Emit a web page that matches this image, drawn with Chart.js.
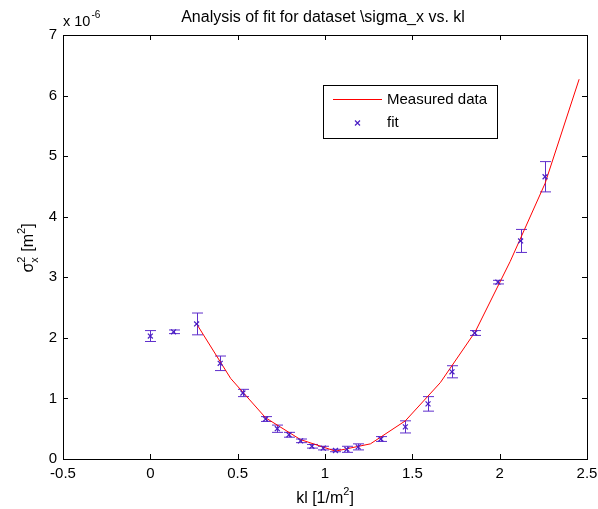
<!DOCTYPE html>
<html><head><meta charset="utf-8">
<script src="https://cdn.jsdelivr.net/npm/chart.js@4.4.1/dist/chart.umd.min.js"></script>
<style>html,body{margin:0;padding:0;background:#fff}#wrap{width:598px;height:509px}</style>
</head><body><div id="wrap"><canvas id="c" width="598" height="509"></canvas></div>
<script>
// data (y values in units of 1e-6 m^2)
const fitX = [0, 0.133, 0.265, 0.40, 0.53, 0.66, 0.727, 0.794, 0.86, 0.925, 0.99, 1.06, 1.125, 1.19, 1.32, 1.46, 1.59, 1.727, 1.857, 1.99, 2.12, 2.26];
const fitY = [2.03, 2.10, 2.23, 1.58, 1.09, 0.66, 0.50, 0.40, 0.30, 0.21, 0.18, 0.14, 0.16, 0.20, 0.33, 0.53, 0.91, 1.44, 2.08, 2.92, 3.60, 4.66];
const fitErr = [0.09, 0.03, 0.18, 0.12, 0.06, 0.04, 0.06, 0.04, 0.03, 0.03, 0.03, 0.02, 0.05, 0.05, 0.04, 0.10, 0.12, 0.10, 0.04, 0.03, 0.19, 0.25];
const lineX = [0.265, 0.46, 0.66, 0.86, 1.06, 1.26, 1.46, 1.66, 1.86, 2.06, 2.26, 2.455];
const lineY = [2.23, 1.33, 0.68, 0.32, 0.13, 0.25, 0.63, 1.26, 2.10, 3.26, 4.55, 6.27];
const xTicks = [-0.5, 0, 0.5, 1, 1.5, 2, 2.5];
const yTicks = [0, 1, 2, 3, 4, 5, 6, 7];

const FONT = 'Liberation Sans, Arial, sans-serif';
const markColor = '#4a1ec4';
const errColor = '#5f2fcc';

const annot = {
  id: 'annot',
  beforeDatasetsDraw(chart) {
    const {ctx, scales: {x, y}} = chart;
    ctx.save();
    ctx.strokeStyle = errColor; ctx.lineWidth = 1;
    fitX.forEach((xv, i) => {
      const px = Math.round(x.getPixelForValue(xv)) + 0.5;
      const y1 = y.getPixelForValue(fitY[i] - fitErr[i]);
      const y2 = y.getPixelForValue(fitY[i] + fitErr[i]);
      ctx.beginPath();
      ctx.moveTo(px, y1); ctx.lineTo(px, y2);
      ctx.moveTo(px - 5.5, y1); ctx.lineTo(px + 5.5, y1);
      ctx.moveTo(px - 5.5, y2); ctx.lineTo(px + 5.5, y2);
      ctx.stroke();
    });
    ctx.restore();
  },
  afterDraw(chart) {
    const {ctx, chartArea: a, scales: {x, y}} = chart;
    ctx.save();
    ctx.strokeStyle = '#000'; ctx.lineWidth = 1;
    ctx.strokeRect(Math.round(a.left) + 0.5, Math.round(a.top) + 0.5, Math.round(a.right - a.left), Math.round(a.bottom - a.top));
    ctx.beginPath();
    xTicks.forEach(v => {
      const px = Math.round(x.getPixelForValue(v)) + 0.5;
      ctx.moveTo(px, a.bottom); ctx.lineTo(px, a.bottom - 5);
      ctx.moveTo(px, a.top); ctx.lineTo(px, a.top + 5);
    });
    yTicks.forEach(v => {
      const py = Math.round(y.getPixelForValue(v)) + 0.5;
      ctx.moveTo(a.left, py); ctx.lineTo(a.left + 5, py);
      ctx.moveTo(a.right, py); ctx.lineTo(a.right - 5, py);
    });
    ctx.stroke();

    ctx.fillStyle = '#000';
    // title
    ctx.font = '16px ' + FONT; ctx.textAlign = 'center'; ctx.textBaseline = 'alphabetic';
    ctx.fillText('Analysis of fit for dataset \\sigma_x vs. kl', (a.left + a.right) / 2 - 2, 22);
    // exponent
    ctx.textAlign = 'left'; ctx.font = '14.5px ' + FONT;
    ctx.fillText('x 10', 63, 26);
    const w10 = ctx.measureText('x 10').width;
    ctx.font = '10px ' + FONT;
    ctx.fillText('-6', 63 + w10 + 1, 18);
    // x label
    const t1 = 'kl [1/m', t2 = '2', t3 = ']';
    ctx.font = '16px ' + FONT; const w1 = ctx.measureText(t1).width;
    ctx.font = '11px ' + FONT; const w2 = ctx.measureText(t2).width;
    ctx.font = '16px ' + FONT; const w3 = ctx.measureText(t3).width;
    let sx = (a.left + a.right) / 2 - (w1 + w2 + w3) / 2;
    const by = 503;
    ctx.fillText(t1, sx, by);
    ctx.font = '11px ' + FONT; ctx.fillText(t2, sx + w1, by - 8);
    ctx.font = '16px ' + FONT; ctx.fillText(t3, sx + w1 + w2, by);
    // y label rotated
    ctx.save();
    ctx.translate(33, 248);
    ctx.rotate(-Math.PI / 2);
    ctx.font = '16px ' + FONT;
    const s = '\u03c3', r = ' [m', r2 = '2', r3 = ']';
    const ws = ctx.measureText(s).width;
    ctx.font = '11px ' + FONT; const wsub = ctx.measureText('x').width + 1;
    ctx.font = '16px ' + FONT; const wr = ctx.measureText(r).width;
    ctx.font = '11px ' + FONT; const wr2 = ctx.measureText(r2).width;
    ctx.font = '16px ' + FONT; const wr3 = ctx.measureText(r3).width;
    let ox = -(ws + wsub + wr + wr2 + wr3) / 2;
    ctx.fillText(s, ox, 0);
    ctx.font = '11px ' + FONT;
    ctx.fillText('2', ox + ws, -8);
    ctx.fillText('x', ox + ws, 5);
    ctx.font = '16px ' + FONT;
    ctx.fillText(r, ox + ws + wsub, 0);
    ctx.font = '11px ' + FONT;
    ctx.fillText(r2, ox + ws + wsub + wr, -8);
    ctx.font = '16px ' + FONT;
    ctx.fillText(r3, ox + ws + wsub + wr + wr2, 0);
    ctx.restore();
    ctx.restore();
  }
};

new Chart(document.getElementById('c'), {
  type: 'scatter',
  data: {
    datasets: [
      {
        type: 'line', label: 'Measured data',
        data: lineX.map((v, i) => ({x: v, y: lineY[i]})),
        borderColor: '#ff0000', borderWidth: 1, pointRadius: 0, fill: false, tension: 0, order: 1
      },
      {
        label: 'fit',
        data: fitX.map((v, i) => ({x: v, y: fitY[i]})),
        pointStyle: 'crossRot', pointRadius: 3.5, borderColor: markColor, backgroundColor: markColor,
        pointBorderWidth: 1.2, showLine: false, order: 0
      }
    ]
  },
  options: {
    responsive: false, animation: false, devicePixelRatio: 1,
    layout: {padding: {top: 35, right: 11, left: 0, bottom: 0}},
    plugins: {
      tooltip: {enabled: false},
      legend: {display: false}
    },
    scales: {
      x: {
        type: 'linear', min: -0.5, max: 2.5,
        afterBuildTicks: s => { s.ticks = xTicks.map(v => ({value: v})); },
        afterFit: s => { s.height = 50; s.paddingLeft = 0; s.paddingRight = 0; },
        grid: {display: false, drawTicks: false},
        border: {display: false},
        ticks: {color: '#000', font: {family: FONT, size: 15}, padding: 6, maxRotation: 0,
          callback: v => String(v)}
      },
      y: {
        type: 'linear', min: 0, max: 7,
        afterBuildTicks: s => { s.ticks = yTicks.map(v => ({value: v})); },
        afterFit: s => { s.width = 63; s.paddingTop = 0; s.paddingBottom = 0; },
        grid: {display: false, drawTicks: false},
        border: {display: false},
        ticks: {color: '#000', font: {family: FONT, size: 15}, padding: 6,
          callback: v => String(v)}
      }
    }
  },
  plugins: [annot, {
    id: 'legendBox',
    afterDraw(chart) {
      const ctx = chart.ctx;
      ctx.save();
      const L = 323, T = 85, W = 174, H = 53;
      ctx.fillStyle = '#fff'; ctx.fillRect(L, T, W, H);
      ctx.strokeStyle = '#000'; ctx.lineWidth = 1;
      ctx.strokeRect(L + 0.5, T + 0.5, W, H);
      ctx.strokeStyle = '#ff0000';
      ctx.beginPath(); ctx.moveTo(333, 99.5); ctx.lineTo(382, 99.5); ctx.stroke();
      ctx.strokeStyle = markColor; ctx.lineWidth = 1.2;
      const cx = 357.5, cy = 123;
      ctx.beginPath();
      ctx.moveTo(cx - 2.5, cy - 2.5); ctx.lineTo(cx + 2.5, cy + 2.5);
      ctx.moveTo(cx - 2.5, cy + 2.5); ctx.lineTo(cx + 2.5, cy - 2.5);
      ctx.stroke();
      ctx.fillStyle = '#000'; ctx.font = '15px ' + FONT; ctx.textAlign = 'left'; ctx.textBaseline = 'middle';
      ctx.fillText(chart.data.datasets[0].label, 387, 100);
      ctx.fillText(chart.data.datasets[1].label, 387, 123);
      ctx.restore();
    }
  }]
});
</script></body></html>
